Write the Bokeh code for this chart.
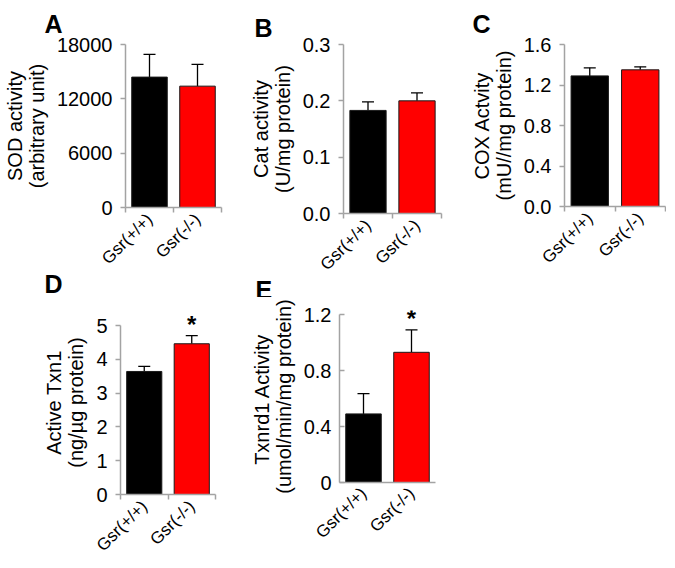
import math
from bokeh.plotting import figure
from bokeh.layouts import row, column
from bokeh.models import (ColumnDataSource, Range1d, FixedTicker, Whisker, TeeHead, Title)
from bokeh.core.properties import value
from bokeh.embed import file_html
from bokeh.resources import INLINE

# ---------------- data ----------------
groups = ["Gsr(+/+)", "Gsr(-/-)"]
bar_colors = ["#000000", "#ff0000"]

sod_mean = [14400, 13400]
sod_sem = [2500, 2400]
sod_ticks = [0, 6000, 12000, 18000]
sod_tick_labels = ["0", "6000", "12000", "18000"]

cat_mean = [0.183, 0.200]
cat_sem = [0.015, 0.014]
cat_ticks = [0.0, 0.1, 0.2, 0.3]
cat_tick_labels = ["0.0", "0.1", "0.2", "0.3"]

cox_mean = [1.29, 1.35]
cox_sem = [0.08, 0.03]
cox_ticks = [0.0, 0.4, 0.8, 1.2, 1.6]
cox_tick_labels = ["0.0", "0.4", "0.8", "1.2", "1.6"]

txn1_mean = [3.64, 4.46]
txn1_sem = [0.15, 0.24]
txn1_ticks = [0, 1, 2, 3, 4, 5]
txn1_tick_labels = ["0", "1", "2", "3", "4", "5"]

txnrd1_mean = [0.49, 0.93]
txnrd1_sem = [0.145, 0.16]
txnrd1_ticks = [0.0, 0.4, 0.8, 1.2]
txnrd1_tick_labels = ["0", "0.4", "0.8", "1.2"]

sig_d = ["", "*"]
sig_e = ["", "*"]

FONT = "Liberation Sans"
AXIS_GREY = "#a3a3a3"


def letter_title(p, text, offset, standoff, place, valign="bottom"):
    p.add_layout(Title(text=text, align="left", offset=offset,
                       standoff=standoff, vertical_align=valign, text_font=FONT,
                       text_font_style="bold", text_font_size="25px",
                       text_color="black"), place)


def panel(mean, sem, ticks, tick_labels, ylabel, geom, headroom=0,
          sig=None, ticks_inside=False, x_ticks=True):
    # geom: border left, frame width, border right, space above axis top,
    #       axis length, figure height
    bl, fw, br, bt, alen, fig_h = geom
    fh = alen + headroom
    y0, y1 = ticks[0], ticks[-1]
    yend = y1 + (y1 - y0) * headroom / alen
    p = figure(frame_width=fw, frame_height=fh, min_border_left=bl,
               min_border_right=br, min_border_top=bt - headroom,
               min_border_bottom=fig_h - bt - alen,
               output_backend="svg", toolbar_location=None,
               x_range=Range1d(0, len(groups)),
               y_range=Range1d(y0, yend))
    p.outline_line_color = None
    p.grid.visible = False
    p.background_fill_color = "white"
    p.border_fill_color = "white"

    xs = [i + 0.5 for i in range(len(groups))]
    tops = [m + s for m, s in zip(mean, sem)]
    src = ColumnDataSource(dict(x=xs, mean=mean, top=tops, color=bar_colors,
                                sig=sig if sig else [""] * len(groups)))
    p.vbar(x="x", top="mean", bottom=0, width=0.74, fill_color="color",
           line_color="#1a1a1a", line_width=1, source=src)
    w = Whisker(source=src, base="x", upper="top", lower="mean",
                line_color="black", line_width=1.3,
                upper_head=TeeHead(size=12, line_color="black", line_width=1.3),
                lower_head=None)
    p.add_layout(w)
    if sig:
        p.text(x="x", y="top", text="sig", source=src,
               text_font=value(FONT), text_font_style="bold",
               text_font_size="24px", text_align="center",
               text_baseline="bottom", y_offset=2)

    # y axis
    ya = p.yaxis[0]
    ya.bounds = (y0, y1)
    ya.ticker = FixedTicker(ticks=ticks, minor_ticks=[])
    ya.major_label_overrides = {t: l for t, l in zip(ticks, tick_labels)}
    ya.major_label_text_font = FONT
    ya.major_label_text_font_size = "20px"
    ya.major_label_text_color = "black"
    ya.axis_line_color = AXIS_GREY
    ya.axis_line_width = 1.5
    ya.major_tick_line_color = AXIS_GREY
    ya.major_tick_line_width = 1.5
    if ticks_inside:
        ya.major_tick_in = 5
        ya.major_tick_out = 0
    else:
        ya.major_tick_in = 0
        ya.major_tick_out = 5
    ya.major_label_standoff = 8
    ya.axis_label = ylabel
    ya.axis_label_text_font = FONT
    ya.axis_label_text_font_size = "20px"
    ya.axis_label_text_line_height = 1.0
    ya.axis_label_text_font_style = "normal"
    ya.axis_label_text_color = "black"
    ya.axis_label_standoff = 6

    # x axis
    xa = p.xaxis[0]
    xa.ticker = FixedTicker(ticks=xs, minor_ticks=list(range(len(groups) + 1)))
    xa.major_label_overrides = {x: g for x, g in zip(xs, groups)}
    xa.major_label_orientation = math.pi / 4
    xa.major_label_text_font = FONT
    xa.major_label_text_font_size = "17px"
    xa.major_label_text_color = "black"
    xa.axis_line_color = AXIS_GREY
    xa.axis_line_width = 1.5
    xa.major_tick_line_color = None
    xa.major_tick_in = 0
    xa.major_tick_out = 0
    if x_ticks:
        xa.minor_tick_line_color = AXIS_GREY
        xa.minor_tick_line_width = 1.5
        xa.minor_tick_in = 0
        xa.minor_tick_out = 5
    else:
        xa.minor_tick_line_color = None
    xa.major_label_standoff = 4
    return p


pA = panel(sod_mean, sod_sem, sod_ticks, sod_tick_labels,
           "SOD activity\n(arbitrary unit)", (118, 96, 6, 43, 163, 296))
pB = panel(cat_mean, cat_sem, cat_ticks, cat_tick_labels,
           "Cat activity\n(U/mg protein)", (116, 98, 6, 35, 169, 296))
pC = panel(cox_mean, cox_sem, cox_ticks, cox_tick_labels,
           "COX Actvity\n(mU//mg protein)", (117, 101, 1, 42, 162, 296))
pD = panel(txn1_mean, txn1_sem, txn1_ticks, txn1_tick_labels,
           "Active Txn1\n(ng/\u00b5g protein)", (120, 95, 5, 15, 169, 256),
           headroom=15, sig=sig_d)
pE = panel(txnrd1_mean, txnrd1_sem, txnrd1_ticks, txnrd1_tick_labels,
           "Txnrd1  Activity\n(umol/min/mg protein)", (119, 96, 5, 17, 168, 256),
           headroom=4, sig=sig_e, ticks_inside=True, x_ticks=False)

# panel letters
letter_title(pA, "A", -81, 14, "above")
letter_title(pB, "B", -89, 6, "above")
letter_title(pC, "C", -92, 13, "above")
letter_title(pA, "D", -81, -15, "below", valign="top")
letter_title(pB, "E", -88, -15, "below", valign="top")

layout = column(row(pA, pB, pC), row(pD, pE))

with open("out.html", "w") as f:
    f.write(file_html(layout, INLINE))
